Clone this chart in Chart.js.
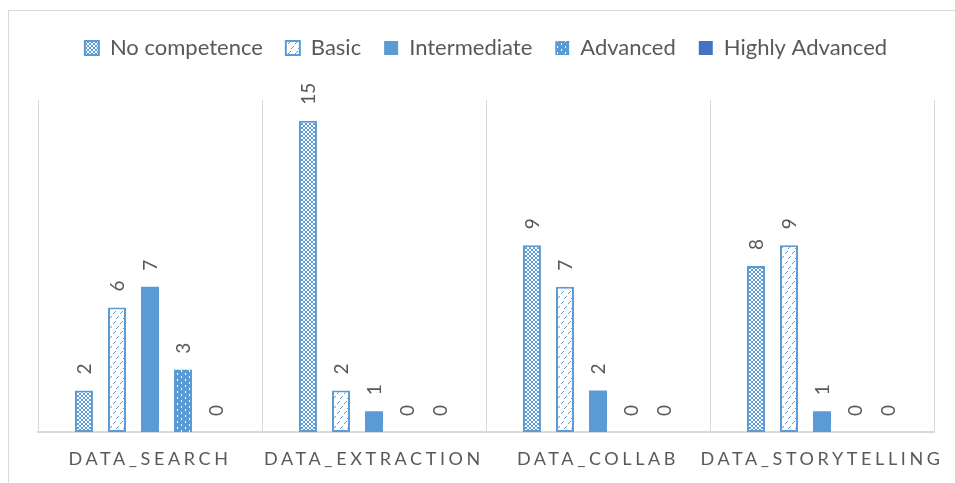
<!DOCTYPE html>
<html>
<head>
<meta charset="utf-8">
<script src="https://cdn.jsdelivr.net/npm/chart.js@4.4.1/dist/chart.umd.min.js"></script>
<style>
  html, body { margin: 0; padding: 0; background: #ffffff; }
  #wrap { position: relative; width: 955px; height: 483px; }
</style>
</head>
<body>
<div id="wrap"><canvas id="c" width="955" height="483"></canvas></div>
<script>
// ---- Data ----
const categories = ['DATA_SEARCH', 'DATA_EXTRACTION', 'DATA_COLLAB', 'DATA_STORYTELLING'];
const seriesNames = ['No competence', 'Basic', 'Intermediate', 'Advanced', 'Highly Advanced'];
const noCompetence = [2, 15, 9, 8];
const basic = [6, 2, 7, 9];
const intermediate = [7, 1, 2, 1];
const advanced = [3, 0, 0, 0];
const highlyAdvanced = [0, 0, 0, 0];
const yMax = 16;

// ---- Styling ----
const BLUE = '#5B9BD5';
const DARK_BLUE = '#4472C4';
const TEXT = '#595959';
const GRID = '#D9D9D9';
const FONT = "Lato, 'Open Sans', 'Liberation Sans', sans-serif";

function makePattern(w, h, bg, fg, pixels) {
  const c = document.createElement('canvas');
  c.width = w; c.height = h;
  const x = c.getContext('2d');
  x.fillStyle = bg; x.fillRect(0, 0, w, h);
  x.fillStyle = fg;
  pixels.forEach(p => x.fillRect(p[0], p[1], p[2] || 1, p[3] || 1));
  return x.createPattern(c, 'repeat');
}
// lattice (no competence)
const patLattice = makePattern(4, 4, BLUE, '#ffffff', [
  [0,0],[1,1],[2,2],[3,3],[0,3],[1,2],[2,1],[3,0]
]);
// dashed upward diagonal (basic)
const patDash = makePattern(7, 10, '#ffffff', BLUE, [
  [1,3],[2,2],[3,1],[4,8],[5,7],[6,6]
]);
// dotted (advanced)
const patDots = makePattern(8, 6, BLUE, '#ffffff', [
  [1,1,1,2],[5,4,1,2]
]);

const seriesData = [noCompetence, basic, intermediate, advanced, highlyAdvanced];
const fills = [patLattice, patDash, BLUE, patDots, DARK_BLUE];
const borders = [2, 2, 0, 0, 0];

const datasets = seriesNames.map((name, i) => ({
  label: name,
  data: seriesData[i],
  backgroundColor: fills[i],
  borderColor: BLUE,
  borderWidth: borders[i],
  borderSkipped: false,
  categoryPercentage: 0.737,
  barPercentage: 0.545
}));

const LEGEND_PAD_TOP = 14;
const CHART_TOP = 100;
const CHART_BOTTOM = 432;
const CANVAS_H = 483;

const legendFitPlugin = {
  id: 'legendFit',
  beforeInit(chart) {
    const orig = chart.legend.fit;
    chart.legend.fit = function () {
      orig.call(this);
      this.height = CHART_TOP - LEGEND_PAD_TOP;
    };
  }
};

const frameAndLabels = {
  id: 'frameAndLabels',
  beforeDraw(chart) {
    const ctx = chart.ctx;
    ctx.save();
    ctx.strokeStyle = GRID;
    ctx.lineWidth = 1;
    ctx.strokeRect(8.5, 10.5, 1000, 1000);
    ctx.restore();
  },
  afterDatasetsDraw(chart) {
    const ctx = chart.ctx;
    ctx.save();
    ctx.fillStyle = TEXT;
    ctx.font = "19px " + FONT;
    ctx.textAlign = 'left';
    ctx.textBaseline = 'middle';
    chart.data.datasets.forEach((ds, di) => {
      const meta = chart.getDatasetMeta(di);
      meta.data.forEach((bar, i) => {
        ctx.save();
        ctx.translate(bar.x, bar.y - 16);
        ctx.rotate(-Math.PI / 2);
        ctx.fillText(String(ds.data[i]), 0, 1);
        ctx.restore();
      });
    });
    ctx.restore();
    // letter spacing for the category axis labels drawn next
    if ('letterSpacing' in ctx) ctx.letterSpacing = '3.6px';
  },
  afterDraw(chart) {
    if ('letterSpacing' in chart.ctx) chart.ctx.letterSpacing = '0px';
  }
};

new Chart(document.getElementById('c'), {
  type: 'bar',
  data: { labels: categories, datasets },
  options: {
    responsive: false,
    animation: false,
    devicePixelRatio: 1,
    layout: { padding: { top: LEGEND_PAD_TOP, left: 38, right: 21, bottom: 0 } },
    plugins: {
      legend: {
        position: 'top',
        align: 'center',
        labels: {
          color: TEXT,
          font: { family: FONT, size: 22 },
          boxWidth: 14,
          boxHeight: 14,
          padding: 23
        }
      },
      tooltip: { enabled: false }
    },
    scales: {
      x: {
        offset: true,
        grid: { display: true, offset: true, color: GRID, lineWidth: 1, drawTicks: false },
        border: { display: true, color: GRID, width: 2 },
        ticks: {
          z: 1,
          color: TEXT,
          font: { family: FONT, size: 18 },
          padding: 16,
          maxRotation: 0,
          autoSkip: false
        },
        afterFit(scale) { scale.height = CANVAS_H - CHART_BOTTOM; }
      },
      y: {
        display: false,
        min: 0,
        max: yMax
      }
    }
  },
  plugins: [legendFitPlugin, frameAndLabels]
});
</script>
</body>
</html>
